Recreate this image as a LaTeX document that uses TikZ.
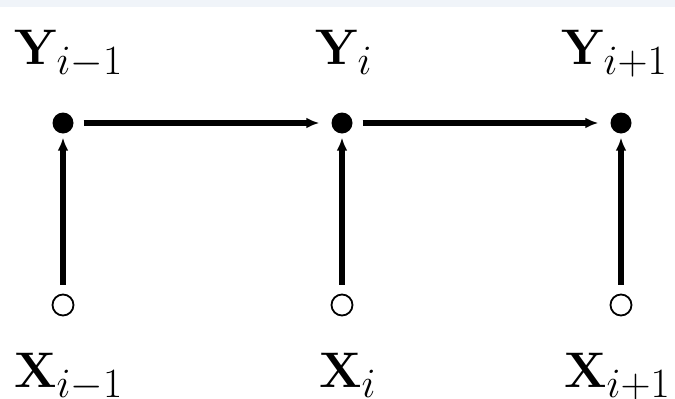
\documentclass[tikz,border=0pt]{standalone}
\usetikzlibrary{arrows.meta}
\newcommand{\biglbl}[1]{\scalebox{2.01}{\Huge$#1$}}
\begin{document}
\begin{tikzpicture}[x=1pt,y=-1pt,
  lbl/.style={anchor=base west,inner sep=0pt},
  ydot/.style={circle,fill=black,minimum size=21pt,inner sep=0pt},
  xdot/.style={circle,draw=black,line width=1.8pt,minimum size=21pt,inner sep=0pt},
  conn/.style={line width=6pt,-{Latex[length=13pt,width=11pt]}}]
\useasboundingbox (0,0) rectangle (675,399);
\fill[fill={rgb,255:red,240;green,244;blue,249}] (0,0) rectangle (675,7);
% nodes
\node[ydot] (y1) at (63,123) {};
\node[ydot] (y2) at (342,123) {};
\node[ydot] (y3) at (621,123) {};
\node[xdot] (x1) at (63,305) {};
\node[xdot] (x2) at (342,305) {};
\node[xdot] (x3) at (621,305) {};
% labels
\node[lbl] (ly1) at (14,64) {\biglbl{\mathbf{Y}_{i-1}}};
\node[lbl] (ly2) at (315,64) {\biglbl{\mathbf{Y}_{i}}};
\node[lbl] (ly3) at (561,64) {\biglbl{\mathbf{Y}_{i+1}}};
\node[lbl] (lx1) at (14,387) {\biglbl{\mathbf{X}_{i-1}}};
\node[lbl] (lx2) at (319,387) {\biglbl{\mathbf{X}_{i}}};
\node[lbl] (lx3) at (564,387) {\biglbl{\mathbf{X}_{i+1}}};
% connectors
\draw[conn,shorten <=10pt,shorten >=12pt] (y1) -- (y2);
\draw[conn,shorten <=10pt,shorten >=12pt] (y2) -- (y3);
\draw[conn,shorten <=9pt,shorten >=4pt] (x1) -- (y1);
\draw[conn,shorten <=9pt,shorten >=4pt] (x2) -- (y2);
\draw[conn,shorten <=9pt,shorten >=4pt] (x3) -- (y3);
\end{tikzpicture}
\end{document}
